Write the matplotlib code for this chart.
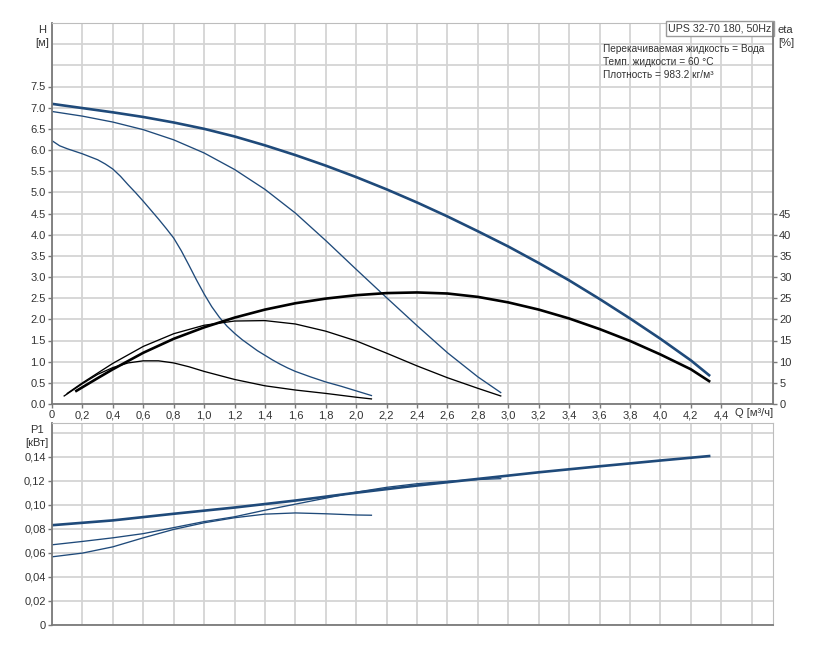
import matplotlib
matplotlib.use("Agg")
import matplotlib.pyplot as plt
from matplotlib.ticker import FuncFormatter

plt.rcParams['font.family'] = ['Liberation Sans', 'DejaVu Sans']
plt.rcParams['font.size'] = 8

# --- H curves [m] vs Q [m3/h] (speeds 3, 2, 1) ---
q_h3 = [0, 0.2, 0.4, 0.6, 0.8, 1.0, 1.2, 1.4, 1.6, 1.8, 2.0, 2.2, 2.4, 2.6, 2.8, 3.0,
        3.2, 3.4, 3.6, 3.8, 4.0, 4.2, 4.32]
h3 = [7.09, 6.99, 6.89, 6.78, 6.65, 6.50, 6.32, 6.11, 5.88, 5.63, 5.36, 5.07, 4.76,
      4.43, 4.08, 3.72, 3.33, 2.92, 2.48, 2.02, 1.54, 1.03, 0.68]
q_h2 = [0, 0.2, 0.4, 0.6, 0.8, 1.0, 1.2, 1.4, 1.6, 1.8, 2.0, 2.2, 2.4, 2.6, 2.8, 2.95]
h2 = [6.91, 6.80, 6.66, 6.48, 6.24, 5.93, 5.54, 5.07, 4.51, 3.86, 3.18, 2.51, 1.85,
      1.21, 0.64, 0.27]
q_h1 = [0, 0.05, 0.1, 0.15, 0.2, 0.25, 0.3, 0.35, 0.4, 0.45, 0.5, 0.55, 0.6, 0.65,
        0.7, 0.75, 0.8, 0.85, 0.9, 0.95, 1.0, 1.05, 1.1, 1.15, 1.2, 1.25, 1.3, 1.35,
        1.4, 1.45, 1.5, 1.55, 1.6, 1.7, 1.8, 1.9, 2.0, 2.1]
h1 = [6.22, 6.10, 6.03, 5.97, 5.91, 5.84, 5.77, 5.67, 5.55, 5.38, 5.18, 4.99, 4.79,
      4.58, 4.37, 4.15, 3.92, 3.62, 3.28, 2.93, 2.60, 2.30, 2.05, 1.84, 1.67, 1.52,
      1.39, 1.26, 1.15, 1.04, 0.94, 0.85, 0.77, 0.64, 0.52, 0.42, 0.31, 0.20]

# --- efficiency curves [%] ---
q_e3 = [0.16, 0.3, 0.4, 0.6, 0.8, 1.0, 1.2, 1.4, 1.6, 1.8, 2.0, 2.2, 2.4, 2.6, 2.8,
        3.0, 3.2, 3.4, 3.6, 3.8, 4.0, 4.2, 4.32]
e3 = [3.1, 6.1, 8.2, 12.1, 15.4, 18.1, 20.4, 22.3, 23.8, 24.9, 25.7, 26.2, 26.35,
      26.1, 25.3, 24.0, 22.3, 20.2, 17.7, 14.9, 11.7, 8.2, 5.4]
q_e2 = [0.1, 0.2, 0.4, 0.6, 0.8, 1.0, 1.2, 1.4, 1.6, 1.8, 2.0, 2.2, 2.4, 2.6, 2.8, 2.95]
e2 = [2.5, 5.0, 9.6, 13.6, 16.6, 18.6, 19.6, 19.7, 18.9, 17.2, 14.9, 12.0, 9.0, 6.2,
      3.7, 1.9]
q_e1 = [0.08, 0.2, 0.3, 0.4, 0.5, 0.6, 0.7, 0.8, 0.9, 1.0, 1.2, 1.4, 1.6, 1.8, 2.0, 2.1]
e1 = [1.9, 4.8, 7.0, 8.6, 9.7, 10.2, 10.2, 9.7, 8.8, 7.7, 5.8, 4.3, 3.3, 2.5, 1.6, 1.2]

# --- power P1 [kW] ---
q_p3 = [0, 0.4, 0.8, 1.2, 1.6, 2.0, 2.4, 2.8, 3.2, 3.6, 4.0, 4.32]
p3 = [0.0830, 0.0870, 0.0925, 0.0977, 0.1035, 0.1100, 0.1160, 0.1215, 0.1270,
      0.1320, 0.1368, 0.1405]
q_p2 = [0, 0.2, 0.4, 0.6, 0.8, 1.0, 1.2, 1.4, 1.6, 1.8, 2.0, 2.2, 2.4, 2.6, 2.8, 2.95]
p2 = [0.0667, 0.0695, 0.0725, 0.0760, 0.0810, 0.0860, 0.0900, 0.0955, 0.1005, 0.1055,
      0.1105, 0.1145, 0.1175, 0.1195, 0.1210, 0.1217]
q_p1 = [0, 0.2, 0.4, 0.6, 0.8, 1.0, 1.2, 1.4, 1.6, 1.8, 2.0, 2.1]
p1 = [0.0567, 0.0598, 0.0650, 0.0725, 0.0795, 0.0850, 0.0892, 0.0922, 0.0932,
      0.0925, 0.0915, 0.0913]

q_ticks = [round(0.2 * i, 1) for i in range(23)]
h_ticks = [round(0.5 * i, 1) for i in range(16)]
eta_ticks = list(range(0, 50, 5))
p_ticks = [round(0.02 * i, 2) for i in range(8)]

BLUE = "#1f4a7a"
GRID = "#d4d4d4"
DARK = "#7a7a7a"
LIGHT = "#bdbdbd"
W, H = 820, 655

fig = plt.figure(figsize=(8.2, 6.55), dpi=100)
x0, x1 = 52 / W, 773 / W
ax = fig.add_axes([x0, 1 - 404 / H, x1 - x0, (404 - 23) / H])
axp = fig.add_axes([x0, 1 - 625 / H, x1 - x0, (625 - 423) / H])
ax2 = ax.twinx()

def fmt_q(v, pos=None):
    return "0" if abs(v) < 1e-9 else f"{v:.1f}".replace(".", ",")

def fmt_p(v, pos=None):
    return "0" if abs(v) < 1e-9 else f"{v:.2f}".replace(".", ",")

for a in (ax, axp):
    a.set_xlim(0, 4.74)
    a.set_xticks([0.2 * i for i in range(24)], minor=True)
    a.tick_params(which="minor", length=0)
    a.set_axisbelow(True)
    a.spines["left"].set_color(DARK)
    a.spines["bottom"].set_color(DARK)
    a.spines["left"].set_linewidth(1.3)
    a.spines["bottom"].set_linewidth(1.3)
    a.spines["top"].set_color(LIGHT)
    a.spines["right"].set_color(LIGHT)
    a.tick_params(which="major", length=3, width=1, color=DARK, pad=1.5,
                  labelsize=8, labelcolor="#333333")

# top panel: head
ax.set_ylim(0, 9)
ax.set_yticks([0.5 * i for i in range(19)], minor=True)
ax.set_xticks(q_ticks)
ax.xaxis.set_major_formatter(FuncFormatter(fmt_q))
ax.set_yticks(h_ticks)
ax.set_yticklabels([f"{v:.1f}" for v in h_ticks])
ax.grid(which="both", color=GRID, lw=1.3)

ax.plot(q_h3, h3, color=BLUE, lw=1.9)
ax.plot(q_h2, h2, color=BLUE, lw=0.95)
ax.plot(q_h1, h1, color=BLUE, lw=0.95)

ax2.set_ylim(0, 90)
ax2.set_yticks(eta_ticks)
ax2.spines["right"].set_color(DARK)
ax2.spines["right"].set_linewidth(1.3)
for s in ("left", "top", "bottom"):
    ax2.spines[s].set_visible(False)
ax2.tick_params(length=3, width=1, color=DARK, pad=1.5, labelsize=8,
                labelcolor="#333333")
ax2.plot(q_e3, e3, color="black", lw=1.9)
ax2.plot(q_e2, e2, color="black", lw=0.95)
ax2.plot(q_e1, e1, color="black", lw=0.95)

# bottom panel: power
axp.set_ylim(0, 0.168)
axp.set_yticks([0.02 * i for i in range(9)], minor=True)
axp.set_yticks(p_ticks)
axp.yaxis.set_major_formatter(FuncFormatter(fmt_p))
axp.tick_params(axis="x", which="major", length=0, labelbottom=False)
axp.set_xticks(q_ticks)
axp.grid(which="both", color=GRID, lw=1.3)
axp.plot(q_p3, p3, color=BLUE, lw=1.9)
axp.plot(q_p2, p2, color=BLUE, lw=0.95)
axp.plot(q_p1, p1, color=BLUE, lw=0.95)

# axis labels and notes
def ftxt(x, y, s, size=8, **kw):
    fig.text(x / W, 1 - y / H, s, fontsize=size, color="#333333", va="center", **kw)

ftxt(42, 30, "H", ha="center")
ftxt(42, 43, "[м]", ha="center")
ftxt(778, 30, "eta", ha="left")
ftxt(778, 43, "[%]", ha="left")
ftxt(37, 430, "P1", ha="center")
ftxt(37, 443, "[кВт]", ha="center")
ftxt(735, 413, "Q [м³/ч]", ha="left")

ax.text(0.998, 0.998, "UPS 32-70 180, 50Hz", transform=ax.transAxes, ha="right",
        va="top", fontsize=7.7, color="#333333", zorder=5,
        bbox=dict(boxstyle="square,pad=0.25", fc="white", ec="#9a9a9a", lw=1))
ftxt(603, 49, "Перекачиваемая жидкость = Вода", size=7.3, ha="left")
ftxt(603, 62, "Темп. жидкости = 60 °C", size=7.3, ha="left")
ftxt(603, 75, "Плотность = 983.2 кг/м³", size=7.3, ha="left")

fig.savefig("out.png", dpi=100, facecolor="white")
